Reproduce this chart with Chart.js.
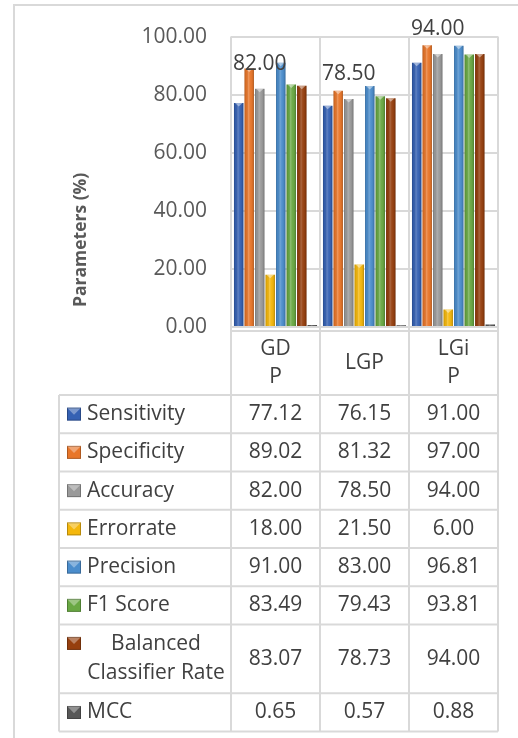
<!DOCTYPE html>
<html>
<head>
<meta charset="utf-8">
<script src="https://cdn.jsdelivr.net/npm/chart.js@4/dist/chart.umd.min.js"></script>
<style>
  html, body { margin: 0; padding: 0; background: #ffffff; }
  #wrap { width: 518px; height: 738px; }
</style>
</head>
<body>
<div id="wrap"><canvas id="c" width="518" height="738"></canvas></div>
<script>
// Categories (wrapped as they appear in the axis cells)
const categories = [['GD', 'P'], ['LGP'], ['LGi', 'P']];

// Series names (legend / table rows)
const seriesNames = ['Sensitivity', 'Specificity', 'Accuracy', 'Errorrate',
                     'Precision', 'F1 Score', 'Balanced Classifier Rate', 'MCC'];

// Series values per category
const sensitivity = [77.12, 76.15, 91.00];
const specificity = [89.02, 81.32, 97.00];
const accuracy    = [82.00, 78.50, 94.00];
const errorrate   = [18.00, 21.50, 6.00];
const precision   = [91.00, 83.00, 96.81];
const f1Score     = [83.49, 79.43, 93.81];
const balancedCR  = [83.07, 78.73, 94.00];
const mcc         = [0.65, 0.57, 0.88];

// Y axis ticks
const yTicks = [0, 20, 40, 60, 80, 100];

const seriesValues = [sensitivity, specificity, accuracy, errorrate,
                      precision, f1Score, balancedCR, mcc];
const seriesColors = ['#3561b3', '#e8762a', '#9a9a9a', '#f4b70c',
                      '#4b8dcc', '#69a843', '#963f0e', '#575757'];

// Only the accuracy series carries value labels
const labelledSeries = 2;

const FONT = '"Open Sans", "DejaVu Sans", sans-serif';
const FONT_SIZE = 21;
const TEXT = '#404040';
const AXIS_TEXT = '#595959';
const LINE = '#d9d9d9';
const TABLE_LEFT = 59;
const ROW_H = 38.25;

function fmt(v) { return v.toFixed(2); }

// Cylinder-like shading on each bar, plus the value labels
const barDecor = {
  id: 'barDecor',
  afterDatasetsDraw(chart) {
    const ctx = chart.ctx;
    ctx.save();
    chart.data.datasets.forEach((ds, di) => {
      const meta = chart.getDatasetMeta(di);
      meta.data.forEach((bar) => {
        const { x, y, base, width } = bar.getProps(['x', 'y', 'base', 'width'], true);
        const l = x - width / 2, r = x + width / 2, h = base - y;
        if (h <= 0) return;
        const g = ctx.createLinearGradient(l, 0, r, 0);
        g.addColorStop(0, 'rgba(0,0,0,0.22)');
        g.addColorStop(0.18, 'rgba(0,0,0,0.03)');
        g.addColorStop(0.42, 'rgba(255,255,255,0.22)');
        g.addColorStop(0.62, 'rgba(255,255,255,0.04)');
        g.addColorStop(0.86, 'rgba(0,0,0,0.08)');
        g.addColorStop(1, 'rgba(0,0,0,0.26)');
        ctx.fillStyle = g;
        ctx.fillRect(l, y, width, h);
        if (h > 5) {
          ctx.beginPath();
          ctx.moveTo(l + 1, y);
          ctx.lineTo(r - 1, y);
          ctx.lineTo(x, y + 3.5);
          ctx.closePath();
          ctx.fillStyle = 'rgba(255,255,255,0.45)';
          ctx.fill();
        }
      });
    });

    // value labels above the accuracy bars
    const meta = chart.getDatasetMeta(labelledSeries);
    ctx.font = FONT_SIZE + 'px ' + FONT;
    ctx.fillStyle = TEXT;
    ctx.textAlign = 'center';
    ctx.textBaseline = 'middle';
    meta.data.forEach((bar, i) => {
      const { x, y } = bar.getProps(['x', 'y'], true);
      ctx.fillText(fmt(seriesValues[labelledSeries][i]), x, y - 25);
    });
    ctx.restore();
  }
};

// Legend key square with a bevelled look
function drawKey(ctx, x, y, color) {
  const w = 14, h = 13;
  ctx.fillStyle = color;
  ctx.fillRect(x, y, w, h);
  ctx.beginPath();
  ctx.moveTo(x, y);
  ctx.lineTo(x + w, y);
  ctx.lineTo(x + w / 2, y + h * 0.55);
  ctx.closePath();
  ctx.fillStyle = 'rgba(255,255,255,0.35)';
  ctx.fill();
  ctx.strokeStyle = 'rgba(0,0,0,0.25)';
  ctx.lineWidth = 1;
  ctx.strokeRect(x + 0.5, y + 0.5, w - 1, h - 1);
}

// Frame, category cells, data table and axis title
const tableDecor = {
  id: 'tableDecor',
  beforeDraw(chart) {
    const ctx = chart.ctx;
    ctx.save();
    ctx.fillStyle = '#ffffff';
    ctx.fillRect(0, 0, chart.width, chart.height);
    ctx.strokeStyle = LINE;
    ctx.lineWidth = 2;
    ctx.beginPath();
    ctx.moveTo(14, chart.height);
    ctx.lineTo(14, 5);
    ctx.lineTo(chart.width, 5);
    ctx.stroke();
    ctx.restore();
  },
  afterDraw(chart) {
    const ctx = chart.ctx;
    const xs = chart.scales.x;
    const area = chart.chartArea;
    const half = (xs.getPixelForValue(1) - xs.getPixelForValue(0)) / 2;
    const centers = categories.map((c, i) => xs.getPixelForValue(i));
    const bounds = [centers[0] - half].concat(centers.map(c => c + half));

    const catTop = area.bottom + 4;
    const tableTop = area.bottom + 68;
    const rowHeights = seriesNames.map(n => n.length > 15 ? ROW_H * 1.8 : ROW_H);
    const rowTops = [tableTop];
    rowHeights.forEach(h => rowTops.push(rowTops[rowTops.length - 1] + h));
    const tableBottom = rowTops[rowTops.length - 1];

    ctx.save();
    ctx.strokeStyle = LINE;
    ctx.lineWidth = 2;
    ctx.beginPath();
    // vertical lines below the plot
    bounds.forEach(b => { ctx.moveTo(b, area.bottom); ctx.lineTo(b, tableBottom); });
    ctx.moveTo(TABLE_LEFT, tableTop);
    ctx.lineTo(TABLE_LEFT, tableBottom);
    // category cell top
    ctx.moveTo(bounds[0], catTop);
    ctx.lineTo(bounds[bounds.length - 1], catTop);
    // table rows
    rowTops.forEach(t => { ctx.moveTo(TABLE_LEFT, t); ctx.lineTo(bounds[bounds.length - 1], t); });
    ctx.stroke();

    ctx.font = FONT_SIZE + 'px ' + FONT;
    ctx.fillStyle = TEXT;
    ctx.textAlign = 'center';
    ctx.textBaseline = 'middle';

    // category labels
    const catMid = (catTop + tableTop) / 2;
    const lh = 28;
    categories.forEach((lines, i) => {
      lines.forEach((s, k) => {
        ctx.fillText(s, centers[i], catMid + (k - (lines.length - 1) / 2) * lh);
      });
    });

    // table rows
    seriesNames.forEach((name, r) => {
      const top = rowTops[r], h = rowHeights[r];
      const mid = top + h / 2;
      const textLeft = TABLE_LEFT + 28;
      const textRight = bounds[0] - 6;
      ctx.fillStyle = TEXT;
      if (h > ROW_H) {
        const words = ['Balanced', 'Classifier Rate'];
        const cx = (textLeft + textRight) / 2;
        ctx.textAlign = 'center';
        ctx.fillText(words[0], cx, mid - 15);
        ctx.fillText(words[1], cx, mid + 14);
        drawKey(ctx, TABLE_LEFT + 8, mid - 22, seriesColors[r]);
      } else {
        ctx.textAlign = 'left';
        ctx.fillText(name, textLeft, mid);
        drawKey(ctx, TABLE_LEFT + 8, mid - 6.5, seriesColors[r]);
      }
      ctx.fillStyle = TEXT;
      ctx.textAlign = 'center';
      seriesValues[r].forEach((v, i) => ctx.fillText(fmt(v), centers[i], mid));
    });

    // y axis title
    ctx.translate(area.left - 150, area.top + (area.bottom - area.top) * 0.70);
    ctx.rotate(-Math.PI / 2);
    ctx.font = 'bold 17.5px ' + FONT;
    ctx.fillStyle = AXIS_TEXT;
    ctx.textAlign = 'center';
    ctx.textBaseline = 'middle';
    ctx.fillText('Parameters (%)', 0, 0);
    ctx.restore();
  }
};

new Chart(document.getElementById('c'), {
  type: 'bar',
  data: {
    labels: categories,
    datasets: seriesNames.map((name, i) => ({
      label: name,
      data: seriesValues[i],
      backgroundColor: seriesColors[i],
      borderWidth: 0,
      categoryPercentage: 0.945,
      barPercentage: 0.9
    }))
  },
  options: {
    responsive: false,
    devicePixelRatio: 1,
    animation: false,
    layout: { padding: { top: 34, right: 20, left: 0, bottom: 0 } },
    plugins: {
      legend: { display: false },
      tooltip: { enabled: false },
      title: { display: false }
    },
    scales: {
      x: {
        grid: { offset: true, color: LINE, lineWidth: 2, drawTicks: false },
        border: { display: false },
        ticks: { display: false },
        afterFit(scale) { scale.height = 411; }
      },
      y: {
        min: yTicks[0],
        max: yTicks[yTicks.length - 1],
        afterBuildTicks(scale) { scale.ticks = yTicks.map(v => ({ value: v })); },
        grid: { color: LINE, lineWidth: 2, drawTicks: false },
        border: { display: false },
        ticks: {
          padding: 24,
          color: AXIS_TEXT,
          font: { family: FONT, size: FONT_SIZE },
          callback: v => fmt(v)
        },
        afterFit(scale) { scale.width = 231; }
      }
    }
  },
  plugins: [barDecor, tableDecor]
});
</script>
</body>
</html>
